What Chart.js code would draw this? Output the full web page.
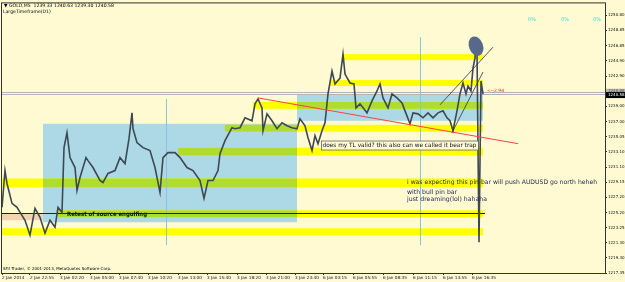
<!DOCTYPE html>
<html>
<head>
<meta charset="utf-8">
<script src="https://cdn.jsdelivr.net/npm/chart.js@4.4.1/dist/chart.umd.min.js"></script>
<style>
  html, body { margin: 0; padding: 0; background: #fffad2; }
</style>
</head>
<body>
<canvas id="myChart" width="625" height="282"></canvas>
<script>
// GOLD M5 - bar position (x) and price
const barIndex = [2, 5, 7, 12, 17, 25, 30, 35, 40, 45, 50, 55, 58, 62, 64, 67, 70, 75, 77, 80,
  86, 88, 93, 100, 103, 108, 115, 120, 125, 129, 132, 133, 137, 143, 150, 155, 160, 163, 168, 175,
  180, 187, 193, 200, 204, 208, 213, 218, 220, 225, 232, 235, 240, 245, 252, 255, 258, 262, 263, 267,
  272, 277, 282, 287, 292, 297, 300, 305, 308, 312, 315, 318, 322, 325, 328, 332, 335, 340, 343, 345,
  350, 354, 356, 360, 367, 372, 377, 380, 383, 388, 392, 397, 402, 405, 410, 413, 418, 423, 428, 433,
  438, 443, 447, 450, 453, 457, 460, 463, 466, 468, 471, 473, 475, 476, 477, 479, 481, 483];
const closePrice = [1225.87, 1230.65, 1228.97, 1226.39, 1225.87, 1224.20, 1222.26, 1225.75, 1224.58, 1222.52,
  1224.20, 1223.29, 1225.87, 1225.23, 1233.62, 1235.56, 1232.33, 1231.04, 1228.07, 1229.75,
  1232.33, 1231.94, 1231.04, 1229.36, 1229.10, 1230.27, 1230.65, 1232.33, 1231.56, 1234.79,
  1238.14, 1236.08, 1234.27, 1233.62, 1233.24, 1231.04, 1227.81, 1232.33, 1232.98, 1232.98,
  1232.33, 1231.04, 1230.65, 1229.36, 1227.04, 1229.36, 1229.36, 1230.65, 1232.85, 1234.53,
  1236.21, 1236.08, 1236.21, 1237.50, 1237.11, 1239.31, 1239.95, 1238.79, 1235.82, 1238.01,
  1237.11, 1236.08, 1236.85, 1236.46, 1236.21, 1236.08, 1237.37, 1236.46, 1234.91, 1233.24,
  1235.17, 1234.14, 1235.82, 1236.85, 1240.60, 1243.57, 1241.89, 1242.66, 1245.76, 1243.18,
  1242.02, 1241.89, 1238.79, 1239.31, 1238.14, 1239.69, 1240.98, 1241.89, 1240.08, 1238.79,
  1240.60, 1240.08, 1239.43, 1238.40, 1236.72, 1238.14, 1238.01, 1237.50, 1238.14, 1237.50,
  1238.14, 1238.40, 1237.50, 1237.11, 1235.82, 1238.40, 1240.60, 1242.02, 1240.60, 1241.63,
  1240.98, 1243.96, 1245.25, 1247.44, 1246.15, 1221.35, 1242.28, 1240.58];

const timeTickPos = [2, 30, 60, 90, 119, 148, 178, 207, 237, 266, 295, 323, 353, 383, 413, 443, 472];
const timeLabels = ['2 Jan 2014', '2 Jan 22:55', '3 Jan 02:20', '3 Jan 05:00', '3 Jan 07:40', '3 Jan 10:20',
  '3 Jan 13:00', '3 Jan 15:40', '3 Jan 18:20', '3 Jan 21:00', '3 Jan 23:40', '6 Jan 03:15',
  '6 Jan 05:55', '6 Jan 08:35', '6 Jan 11:15', '6 Jan 13:55', '6 Jan 16:35'];
const priceTicks = [1250.80, 1248.85, 1246.85, 1244.90, 1242.90, 1240.95, 1239.00, 1237.00, 1235.05,
  1233.10, 1231.10, 1229.15, 1227.20, 1225.20, 1223.25, 1221.30, 1219.30, 1217.35];

const bidPrice = 1240.58;
const askPrice = 1240.88;

// drawn objects: [fromBar, toBar, priceTop, priceBottom]
const blueBoxes = [[43, 297, 1236.72, 1223.94], [297, 483, 1240.60, 1237.11]];
const yellowBands = [
  [343, 483, 1245.76, 1244.99], [330, 483, 1242.41, 1241.63], [253, 483, 1239.56, 1238.66],
  [225, 483, 1236.59, 1235.69], [178, 483, 1233.62, 1232.59], [2, 483, 1229.62, 1228.46],
  [58, 483, 1225.49, 1224.58], [2, 483, 1223.16, 1222.26]];
const peachBand = [2, 43, 1225.10, 1224.20];
// trend lines: [bar1, price1, bar2, price2]
const redTrend = [258, 1240.08, 518, 1234.14];
const wedgeLines = [[440, 1239.18, 493, 1246.67], [452, 1235.56, 483, 1243.44]];
const retestLine = [2, 485, 1225.10];
const vLines = [[166, 1239.95, 1220.97], [420, 1247.96, 1220.97]];

const ctx = document.getElementById('myChart').getContext('2d');

const drawings = {
  id: 'drawings',
  beforeDatasetsDraw(chart) {
    const c = chart.ctx, a = chart.chartArea, x = chart.scales.x, y = chart.scales.y;
    c.save();
    c.beginPath();
    c.rect(a.left, a.top, a.right - a.left, a.bottom - a.top);
    c.clip();

    const rect = (r, color) => {
      const x1 = x.getPixelForValue(r[0]), x2 = x.getPixelForValue(r[1]);
      const y1 = y.getPixelForValue(r[2]), y2 = y.getPixelForValue(r[3]);
      c.fillStyle = color;
      c.fillRect(x1, y1, x2 - x1, y2 - y1);
    };

    blueBoxes.forEach(b => rect(b, '#add8e6'));
    yellowBands.forEach(b => {
      rect(b, '#ffff00');
      // where a band crosses a blue box the colours mix into yellow-green
      blueBoxes.forEach(bx => {
        const l = Math.max(b[0], bx[0]), r = Math.min(b[1], bx[1]);
        const t = Math.min(b[2], bx[2]), bt = Math.max(b[3], bx[3]);
        if (l < r && t > bt) rect([l, r, t, bt], '#b0dc30');
      });
    });
    rect(peachBand, '#f3d3b4');

    // vertical lines
    c.strokeStyle = '#87c3e0';
    c.lineWidth = 1;
    vLines.forEach(v => {
      const px = Math.round(x.getPixelForValue(v[0])) + 0.5;
      c.beginPath();
      c.moveTo(px, y.getPixelForValue(v[1]));
      c.lineTo(px, y.getPixelForValue(v[2]));
      c.stroke();
    });

    // bid / ask lines
    c.strokeStyle = '#b4b4b4';
    [bidPrice, askPrice].forEach(p => {
      const py = Math.round(y.getPixelForValue(p)) + 0.5;
      c.beginPath();
      c.moveTo(a.left, py);
      c.lineTo(a.right, py);
      c.stroke();
    });

    // retest line
    c.strokeStyle = '#222';
    const ry = Math.round(y.getPixelForValue(retestLine[2])) + 0.5;
    c.beginPath();
    c.moveTo(x.getPixelForValue(retestLine[0]), ry);
    c.lineTo(x.getPixelForValue(retestLine[1]), ry);
    c.stroke();
    c.restore();
  },
  afterDatasetsDraw(chart) {
    const c = chart.ctx, x = chart.scales.x, y = chart.scales.y;
    const px = v => x.getPixelForValue(v), py = v => y.getPixelForValue(v);
    c.save();

    c.lineWidth = 1;
    c.strokeStyle = '#ff4040';
    c.beginPath();
    c.moveTo(px(redTrend[0]), py(redTrend[1]));
    c.lineTo(px(redTrend[2]), py(redTrend[3]));
    c.stroke();

    c.strokeStyle = '#333';
    c.lineWidth = 0.8;
    wedgeLines.forEach(l => {
      c.beginPath();
      c.moveTo(px(l[0]), py(l[1]));
      c.lineTo(px(l[2]), py(l[3]));
      c.stroke();
    });

    // ellipse on top of the pin bar
    c.fillStyle = '#56698a';
    c.beginPath();
    c.ellipse(px(476), py(1246.80), 7, 10, -0.35, 0, Math.PI * 2);
    c.fill();

    // text labels
    c.textBaseline = 'middle';
    c.textAlign = 'left';
    c.font = '6px "DejaVu Sans"';
    const t1 = 'does my TL valid? this also can we called it bear trap';
    const bx = px(321), by = py(1233.9);
    c.fillStyle = '#fffad2';
    c.fillRect(bx, by - 4.5, 157, 9);
    c.strokeStyle = '#666';
    c.lineWidth = 0.8;
    c.strokeRect(bx + 0.5, by - 4.5, 157, 9);
    c.fillStyle = '#111';
    c.fillText(t1, bx + 1.5, by, 154);

    c.font = 'bold 6px "DejaVu Sans"';
    c.fillStyle = '#111';
    c.fillText('Retest of source engulfing', px(67), py(1224.95), 80);

    c.font = '6.2px "DejaVu Sans"';
    c.fillStyle = '#1b2550';
    c.fillText('i was expecting this pin bar will push AUDUSD go north heheh', px(407), py(1229.05), 190);
    c.fillText('with bull pin bar', px(407), py(1227.80));
    c.fillText('just dreaming(lol) hahaha', px(407), py(1226.90));

    c.font = '4.5px "DejaVu Sans"';
    c.fillStyle = '#ff2020';
    c.fillText('<--2.94', px(487), py(1240.99));
    c.restore();
  },
  afterDraw(chart) {
    const c = chart.ctx, a = chart.chartArea, y = chart.scales.y;
    c.save();
    // frame
    c.strokeStyle = '#333';
    c.lineWidth = 1;
    c.strokeRect(a.left - 0.5, a.top - 0.5, a.right - a.left + 1, a.bottom - a.top + 1);

    // price labels on the axis
    c.font = '4px "DejaVu Sans"';
    c.textBaseline = 'middle';
    c.textAlign = 'left';
    const ay = y.getPixelForValue(askPrice), byy = y.getPixelForValue(bidPrice);
    c.fillStyle = '#b8b8b8';
    c.fillRect(a.right + 1, ay - 3, 19, 5);
    c.fillStyle = '#000';
    c.fillRect(a.right + 1, byy - 2, 19, 6);
    c.fillStyle = '#fff';
    c.fillText(bidPrice.toFixed(2), a.right + 3, byy + 1);
    c.fillStyle = '#555';
    c.fillText(askPrice.toFixed(2), a.right + 3, ay - 0.5);

    // header texts
    c.fillStyle = '#000';
    c.font = '4.6px "DejaVu Sans"';
    c.fillText('\u25BC GOLD,M5  1239.33 1240.63 1239.30 1240.58', 4, 6);
    c.fillText('LargeTimeframe(D1)', 3, 12);
    c.font = '4px "DejaVu Sans"';
    c.fillText('SFit Trader, \u00A9 2001-2013, MetaQuotes Software Corp.', 3, 269);

    c.font = '5px "DejaVu Sans"';
    c.fillStyle = '#30e0e0';
    c.fillText('0%', 528, 20);
    c.fillText('0%', 561, 20);
    c.fillText('0%', 593, 20);
    c.restore();
  }
};

const myChart = new Chart(ctx, {
  type: 'line',
  data: {
    datasets: [{
      data: barIndex.map((b, i) => ({ x: b, y: closePrice[i] })),
      borderColor: '#3d4853',
      borderWidth: 1.6,
      pointRadius: 0,
      tension: 0
    }]
  },
  options: {
    responsive: false,
    animation: false,
    layout: { padding: { left: 2, top: 2, right: 0, bottom: 0 } },
    plugins: { legend: { display: false }, tooltip: { enabled: false } },
    scales: {
      x: {
        type: 'linear',
        min: 2,
        max: 605,
        afterBuildTicks: s => { s.ticks = timeTickPos.map(v => ({ value: v })); },
        afterFit: s => { s.height = 9; },
        ticks: {
          autoSkip: false,
          maxRotation: 0,
          align: 'start',
          padding: 0,
          color: '#111',
          font: { size: 4.2, family: 'DejaVu Sans' },
          callback: (v, i) => timeLabels[i]
        },
        grid: { drawOnChartArea: false, tickLength: 2, color: '#333' },
        border: { color: '#333' }
      },
      y: {
        position: 'right',
        min: 1217.35,
        max: 1252.35,
        afterBuildTicks: s => { s.ticks = priceTicks.map(v => ({ value: v })); },
        afterFit: s => { s.width = 20; },
        ticks: {
          padding: 1,
          color: '#111',
          font: { size: 4, family: 'DejaVu Sans' },
          callback: v => v.toFixed(2)
        },
        grid: { drawOnChartArea: false, tickLength: 2, color: '#333' },
        border: { color: '#333' }
      }
    }
  },
  plugins: [drawings]
});
</script>
</body>
</html>
